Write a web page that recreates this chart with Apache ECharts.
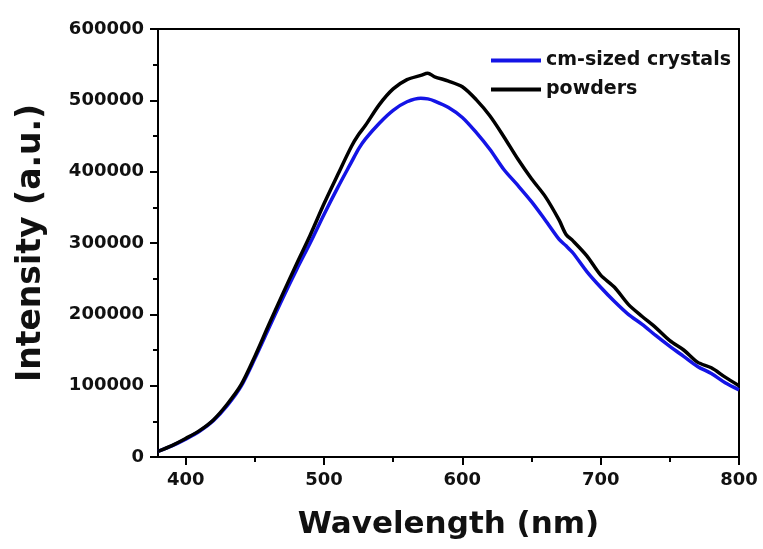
<!DOCTYPE html>
<html>
<head>
<meta charset="utf-8">
<script src="https://cdn.jsdelivr.net/npm/echarts@6/dist/echarts.min.js"></script>
<style>
  html, body { margin: 0; padding: 0; background: #fff; }
  #chart { width: 763px; height: 549px; }
</style>
</head>
<body>
<div id="chart"></div>
<script>
// Emission spectra: wavelength (nm) vs intensity (a.u.)
const wavelengths = [380, 390, 400, 410, 420, 430, 440, 450, 460, 470, 480, 490, 500, 510, 520, 525,
  530, 540, 550, 560, 570, 575, 580, 590, 600, 610, 620, 630, 640, 650, 660, 670, 675,
  680, 690, 700, 710, 720, 730, 740, 750, 760, 770, 780, 790, 800];

const crystals = [8000, 15500, 25000, 36000, 51000, 72000, 99000, 138000, 180000, 222000, 262000, 300000, 340000, 378000, 414000, 432000,
  446000, 468000, 486000, 498000, 503000, 502000, 499000, 490000, 476000, 455000, 431000, 403000, 381000, 358000, 332000, 305000, 296000,
  286000, 260000, 238000, 218000, 200000, 186000, 170000, 155000, 141000, 127000, 117000, 104000, 94000];

const powders = [8000, 16000, 26000, 37000, 52000, 74000, 101000, 141000, 185000, 228000, 270000, 311000, 355000, 396000, 436000, 452000,
  465000, 494000, 516000, 529000, 535000, 538000, 533000, 527000, 519000, 501000, 478000, 449000, 418000, 390000, 365000, 332000, 312000,
  303000, 282000, 255000, 238000, 214000, 197000, 181000, 163000, 150000, 133000, 125000, 112000, 100000];

const seriesNames = ['cm-sized crystals', 'powders'];
const xTicks = [400, 500, 600, 700, 800];
const xMinorTicks = [450, 550, 650, 750];

const FONT = 'DejaVu Sans';
const pairs = (ys) => wavelengths.map((w, i) => [w, ys[i]]);

const chart = echarts.init(document.getElementById('chart'), null, { renderer: 'canvas' });

// plain lines closing the frame on the top and right
const frameAxis = {
  show: true,
  axisLine: { show: true, onZero: false, lineStyle: { color: '#000', width: 2 } },
  axisTick: { show: false },
  axisLabel: { show: false },
  splitLine: { show: false }
};

chart.setOption({
  animation: false,
  backgroundColor: '#fff',
  grid: { left: 158, right: 24, top: 29, bottom: 92, containLabel: false },
  legend: {
    orient: 'vertical',
    left: 486,
    top: 46,
    itemGap: 10,
    itemWidth: 50,
    itemHeight: 4,
    icon: 'rect',
    data: seriesNames,
    textStyle: { fontFamily: FONT, fontWeight: 'bold', fontSize: 19, color: '#111' }
  },
  xAxis: [
    {
      type: 'value',
      min: 380,
      max: 800,
      position: 'bottom',
      name: 'Wavelength (nm)',
      nameLocation: 'middle',
      nameGap: 52,
      nameTextStyle: { fontFamily: FONT, fontWeight: 'bold', fontSize: 31, color: '#111' },
      axisLine: { show: true, onZero: false, lineStyle: { color: '#000', width: 2 } },
      axisTick: { show: true, inside: false, length: 8, lineStyle: { color: '#000', width: 2 },
        customValues: xTicks },
      axisLabel: {
        margin: 14,
        fontFamily: FONT, fontWeight: 'bold', fontSize: 18, color: '#111',
        customValues: xTicks
      },
      splitLine: { show: false }
    },
    Object.assign({ type: 'value', min: 380, max: 800, position: 'top' }, frameAxis),
    // minor ticks of the wavelength axis
    {
      type: 'value',
      min: 380,
      max: 800,
      position: 'bottom',
      axisLine: { show: false, onZero: false },
      axisTick: { show: true, inside: false, length: 5, lineStyle: { color: '#000', width: 2 },
        customValues: xMinorTicks },
      axisLabel: { show: false },
      splitLine: { show: false }
    }
  ],
  yAxis: [
    {
      type: 'value',
      min: 0,
      max: 600000,
      interval: 100000,
      position: 'left',
      name: 'Intensity (a.u.)',
      nameLocation: 'middle',
      nameGap: 110,
      nameTextStyle: { fontFamily: FONT, fontWeight: 'bold', fontSize: 33, color: '#111' },
      axisLine: { show: true, onZero: false, lineStyle: { color: '#000', width: 2 } },
      axisTick: { show: true, inside: false, length: 8, lineStyle: { color: '#000', width: 2 } },
      minorTick: { show: true, splitNumber: 2, length: 5, lineStyle: { color: '#000', width: 2 } },
      axisLabel: {
        margin: 14,
        fontFamily: FONT, fontWeight: 'bold', fontSize: 18, color: '#111',
        formatter: (v) => String(v)
      },
      splitLine: { show: false }
    },
    Object.assign({ type: 'value', min: 0, max: 600000, position: 'right' }, frameAxis)
  ],
  series: [
    {
      name: seriesNames[0],
      type: 'line',
      data: pairs(crystals),
      smooth: 0.3,
      showSymbol: false,
      symbol: 'none',
      color: '#1414e6',
      lineStyle: { color: '#1414e6', width: 3.5 },
      z: 2
    },
    {
      name: seriesNames[1],
      type: 'line',
      data: pairs(powders),
      smooth: 0.3,
      showSymbol: false,
      symbol: 'none',
      color: '#000',
      lineStyle: { color: '#000', width: 3.5 },
      z: 3
    }
  ]
});
</script>
</body>
</html>
